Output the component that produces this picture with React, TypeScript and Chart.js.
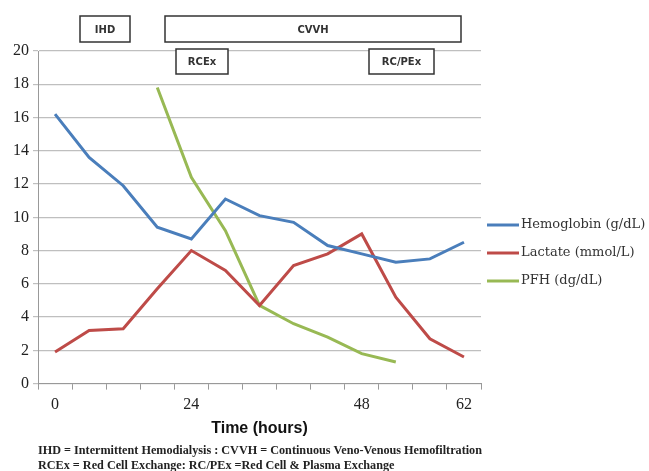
import React, { useEffect, useRef } from "react";
import { Chart, registerables } from "chart.js";

Chart.register(...registerables);

const categories = ["0", "", "", "", "24", "", "", "", "", "48", "", "", "62"];
const hemoglobin = [16.2, 13.6, 11.9, 9.4, 8.7, 11.1, 10.1, 9.7, 8.3, 7.8, 7.3, 7.5, 8.5];
const lactate = [1.9, 3.2, 3.3, 5.7, 8.0, 6.8, 4.7, 7.1, 7.8, 9.0, 5.2, 2.7, 1.6];
const pfh = [null, null, null, 17.8, 12.4, 9.2, 4.7, 3.6, 2.8, 1.8, 1.3, null, null];
const seriesNames = ["Hemoglobin (g/dL)", "Lactate (mmol/L)", "PFH (dg/dL)"];
const seriesColors = ["#4A7EBB", "#BE4B48", "#98B954"];
const yTicks = [0, 2, 4, 6, 8, 10, 12, 14, 16, 18, 20];
const footnotes = [
  "IHD = Intermittent Hemodialysis : CVVH = Continuous Veno-Venous Hemofiltration",
  "RCEx = Red Cell Exchange: RC/PEx =Red Cell & Plasma Exchange",
];
const annotationLabels = ["IHD", "CVVH", "RCEx", "RC/PEx"];

const SERIF = "'Liberation Serif', 'DejaVu Serif', serif";
const LEGEND_FONT = "'DejaVu Serif', 'Liberation Serif', serif";
const SANS = "'DejaVu Sans', 'Liberation Sans', sans-serif";
const TITLE_SANS = "'Liberation Sans', Arial, sans-serif";

const boxes = [
  { x0: 80, x1: 130, y0: 16, y1: 42 },
  { x0: 165, x1: 461, y0: 16, y1: 42 },
  { x0: 176, x1: 228, y0: 49, y1: 74 },
  { x0: 369, x1: 434, y0: 49, y1: 74 },
];

const overlayPlugin = {
  id: "overlay",
  afterDraw(chart: any) {
    const ctx = chart.ctx;
    const area = chart.chartArea;
    ctx.save();
    // annotation boxes
    boxes.forEach((b, i) => {
      ctx.fillStyle = "#ffffff";
      ctx.fillRect(b.x0, b.y0, b.x1 - b.x0, b.y1 - b.y0);
      ctx.strokeStyle = "#333333";
      ctx.lineWidth = 1.5;
      ctx.strokeRect(b.x0, b.y0, b.x1 - b.x0, b.y1 - b.y0);
      ctx.fillStyle = "#333333";
      ctx.font = "bold 10px " + SANS;
      ctx.textAlign = "center";
      ctx.textBaseline = "middle";
      ctx.fillText(annotationLabels[i], (b.x0 + b.x1) / 2, (b.y0 + b.y1) / 2 + 1);
    });
    // legend
    const lx = area.right + 6;
    chart.data.datasets.forEach((ds: any, i: number) => {
      const y = 225 + i * 28;
      ctx.strokeStyle = ds.borderColor;
      ctx.lineWidth = 3;
      ctx.beginPath();
      ctx.moveTo(lx, y);
      ctx.lineTo(lx + 32, y);
      ctx.stroke();
      ctx.fillStyle = "#333333";
      ctx.font = "13px " + LEGEND_FONT;
      ctx.textAlign = "left";
      ctx.textBaseline = "middle";
      ctx.fillText(ds.label, lx + 34, y);
    });
    // footnotes
    ctx.fillStyle = "#222222";
    ctx.font = "bold 12.2px " + SERIF;
    ctx.textAlign = "left";
    ctx.textBaseline = "middle";
    footnotes.forEach((t, i) => {
      ctx.fillText(t, area.left, 451 + i * 15);
    });
    ctx.restore();
  },
};

export default function App() {
  const ref = useRef<HTMLCanvasElement | null>(null);
  useEffect(() => {
    if (!ref.current) return;
    const chart = new Chart(ref.current, {
      type: "line",
      data: {
        labels: categories,
        datasets: [hemoglobin, lactate, pfh].map((d, i) => ({
          label: seriesNames[i],
          data: d,
          borderColor: seriesColors[i],
          backgroundColor: seriesColors[i],
          borderWidth: 3,
          pointRadius: 0,
          tension: 0,
          spanGaps: false,
        })),
      },
      options: {
        animation: false,
        responsive: false,
        layout: { padding: { left: 9, top: 51, right: 168, bottom: 33 } },
        plugins: {
          tooltip: { enabled: false },
          legend: { display: false },
        },
        scales: {
          x: {
            type: "category",
            offset: true,
            grid: { display: true, drawOnChartArea: false, drawTicks: true, tickLength: 6, offset: true, color: "#999999" },
            border: { color: "#999999" },
            ticks: { autoSkip: false, maxRotation: 0, color: "#222222", font: { family: SERIF, size: 16 }, padding: 6 },
            title: { display: true, text: "Time (hours)", color: "#111111", font: { family: TITLE_SANS, size: 16, weight: "bold" }, padding: { top: -2, bottom: 0 } },
          },
          y: {
            min: 0,
            max: 20,
            afterBuildTicks: (scale: any) => {
              scale.ticks = yTicks.map((v) => ({ value: v }));
            },
            grid: { color: "#bfbfbf", lineWidth: 1.2, tickLength: 5 },
            border: { color: "#999999" },
            ticks: { color: "#222222", font: { family: SERIF, size: 16 }, padding: 4 },
          },
        },
      },
      plugins: [overlayPlugin],
    });
    return () => chart.destroy();
  }, []);
  return (
    <div style={{ position: "absolute", left: 0, top: 0, width: 649, height: 471, background: "#fff" }}>
      <canvas ref={ref} width={649} height={471} />
    </div>
  );
}
